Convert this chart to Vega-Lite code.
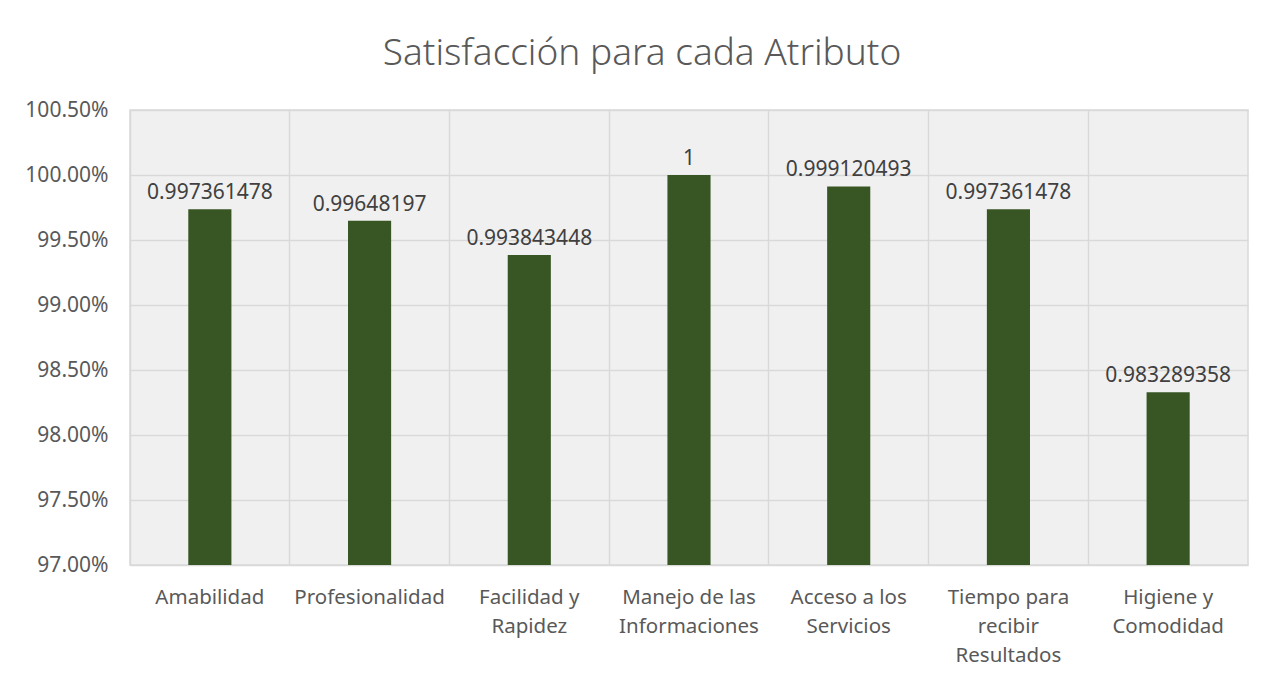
{
  "$schema": "https://vega.github.io/schema/vega-lite/v6.json",
  "autosize": "none",
  "width": 1118,
  "height": 455,
  "padding": {"left": 130, "top": 110, "right": 29, "bottom": 116},
  "background": "white",
  "title": {
    "text": "Satisfacción para cada Atributo",
    "font": "Noto Sans",
    "fontSize": 37,
    "fontWeight": 300,
    "color": "#595959",
    "anchor": "middle",
    "dx": -47,
    "offset": 26
  },
  "config": {
    "view": {"fill": "#f0f0f0", "stroke": "#d9d9d9", "strokeWidth": 1.5},
    "font": "Noto Sans"
  },
  "data": {
    "values": [
      {"atributo": "Amabilidad", "valor": 0.997361478},
      {"atributo": "Profesionalidad", "valor": 0.99648197},
      {"atributo": "Facilidad y|Rapidez", "valor": 0.993843448},
      {"atributo": "Manejo de las|Informaciones", "valor": 1},
      {"atributo": "Acceso a los|Servicios", "valor": 0.999120493},
      {"atributo": "Tiempo para|recibir|Resultados", "valor": 0.997361478},
      {"atributo": "Higiene y|Comodidad", "valor": 0.983289358}
    ]
  },
  "encoding": {
    "x": {
      "field": "atributo",
      "type": "nominal",
      "sort": null,
      "scale": {"paddingInner": 0, "paddingOuter": 0},
      "axis": {
        "title": null,
        "labelAngle": 0,
        "labelExpr": "split(datum.label, '|')",
        "labelFont": "Noto Sans",
        "labelFontSize": 20.5,
        "labelColor": "#595959",
        "labelLineHeight": 29,
        "labelPadding": 22,
        "labelBaseline": "top",
        "ticks": false,
        "domain": false,
        "grid": true,
        "gridColor": "#d9d9d9",
        "gridWidth": 1.5,
        "bandPosition": 0
      }
    },
    "y": {
      "field": "valor",
      "type": "quantitative",
      "scale": {"domain": [0.97, 1.005], "zero": false, "nice": false},
      "axis": {
        "title": null,
        "format": ".2%",
        "values": [0.97, 0.975, 0.98, 0.985, 0.99, 0.995, 1.0, 1.005],
        "labelFont": "Noto Sans",
        "labelFontSize": 21,
        "labelColor": "#595959",
        "labelPadding": 22,
        "ticks": false,
        "domain": false,
        "grid": true,
        "gridColor": "#d9d9d9",
        "gridWidth": 1.5
      }
    }
  },
  "layer": [
    {
      "mark": {"type": "bar", "color": "#375623", "width": {"band": 0.27}},
      "encoding": {"y2": {"datum": 0.97}}
    },
    {
      "mark": {"type": "text", "baseline": "bottom", "dy": -6, "fontSize": 21, "color": "#404040", "font": "Noto Sans"},
      "encoding": {"text": {"field": "valor", "type": "nominal"}}
    }
  ]
}
